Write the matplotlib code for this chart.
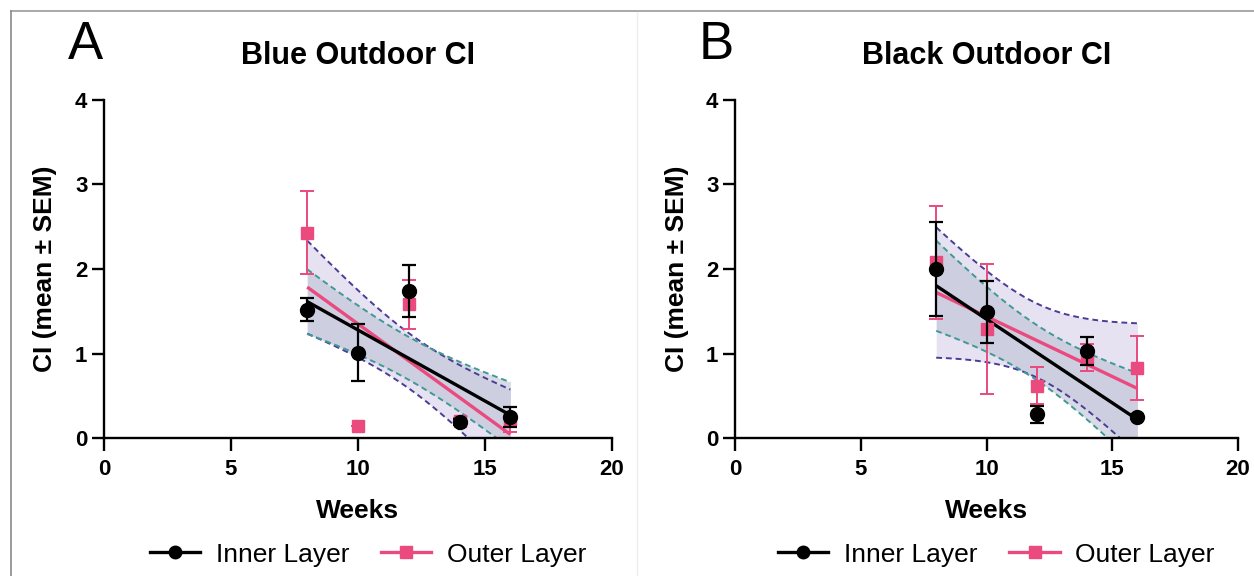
import numpy as np
import matplotlib
matplotlib.use("Agg")
import matplotlib.pyplot as plt
from matplotlib.lines import Line2D

plt.rcParams['font.family'] = ['Liberation Sans', 'DejaVu Sans']

# ---------------- data ----------------
weeks = [8, 10, 12, 14, 16]

titles = ["Blue Outdoor CI", "Black Outdoor CI"]
panel_letters = ["A", "B"]
series_names = ["Inner Layer", "Outer Layer"]

# Panel A (Blue)
blue_inner_mean = [1.52, 1.01, 1.74, 0.19, 0.25]
blue_inner_sem = [0.14, 0.34, 0.31, 0.04, 0.12]
blue_outer_mean = [2.43, 0.14, 1.58, 0.20, 0.22]
blue_outer_sem = [0.49, 0.00, 0.29, 0.04, 0.15]
# 95% CI half-widths of the regression lines, read at each week
blue_inner_ci = [0.38, 0.30, 0.24, 0.30, 0.39]
blue_outer_ci = [0.55, 0.40, 0.32, 0.39, 0.53]

# Panel B (Black)
black_inner_mean = [2.00, 1.49, 0.28, 1.03, 0.25]
black_inner_sem = [0.56, 0.37, 0.10, 0.17, 0.03]
black_outer_mean = [2.08, 1.29, 0.62, 0.95, 0.83]
black_outer_sem = [0.67, 0.77, 0.22, 0.16, 0.38]
black_inner_ci = [0.53, 0.40, 0.31, 0.40, 0.55]
black_outer_ci = [0.77, 0.55, 0.42, 0.55, 0.77]

x_ticks = [0, 5, 10, 15, 20]
y_ticks = [0, 1, 2, 3, 4]

# ---------------- style ----------------
INNER_C = "#000000"
OUTER_C = "#EA4A7E"
INNER_CI_LINE = "#3E9A94"
OUTER_CI_LINE = "#4B3C96"
OUTER_CI_FILL = "#E7E2F1"
INNER_CI_FILL = "#B9BFD3"

fig = plt.figure(figsize=(12.54, 5.76), dpi=100)

axes_px = [(104, 612), (735, 1238)]
W, H = 1254, 576
y0_px, y4_px = 438, 100

panels = [
    (blue_inner_mean, blue_inner_sem, blue_outer_mean, blue_outer_sem, blue_inner_ci, blue_outer_ci),
    (black_inner_mean, black_inner_sem, black_outer_mean, black_outer_sem, black_inner_ci, black_outer_ci),
]

wx = np.array(weeks, dtype=float)
xd = np.linspace(wx.min(), wx.max(), 200)

for i, (im, isem, om, osem, ici, oci) in enumerate(panels):
    l, r = axes_px[i]
    ax = fig.add_axes([l / W, (H - y0_px) / H, (r - l) / W, (y0_px - y4_px) / H])

    # regression fits
    fits = {}
    for key, m in (("in", im), ("out", om)):
        p = np.polyfit(wx, np.array(m), 1)
        fits[key] = np.polyval(p, xd)

    def band(ci):
        q = np.polyfit(wx, np.array(ci) ** 2, 2)
        return np.sqrt(np.clip(np.polyval(q, xd), 0, None))

    hw_out = band(oci)
    hw_in = band(ici)

    ax.fill_between(xd, fits["out"] - hw_out, fits["out"] + hw_out, color=OUTER_CI_FILL, lw=0, zorder=1)
    ax.fill_between(xd, fits["in"] - hw_in, fits["in"] + hw_in, color=INNER_CI_FILL, alpha=0.55, lw=0, zorder=1.5)
    for s in (-1, 1):
        ax.plot(xd, fits["out"] + s * hw_out, color=OUTER_CI_LINE, lw=1.4, ls=(0, (3, 2)), zorder=2)
        ax.plot(xd, fits["in"] + s * hw_in, color=INNER_CI_LINE, lw=1.4, ls=(0, (3, 2)), zorder=2)

    ax.plot(xd, fits["out"], color=OUTER_C, lw=2.4, zorder=3, solid_capstyle='butt')
    ax.plot(xd, fits["in"], color=INNER_C, lw=2.4, zorder=3.2, solid_capstyle='butt')

    ax.errorbar(weeks, om, yerr=osem, fmt='s', color=OUTER_C, ms=8.5, capsize=5,
                elinewidth=1.4, capthick=1.4, zorder=4, clip_on=False)
    ax.errorbar(weeks, im, yerr=isem, fmt='o', color=INNER_C, ms=10, capsize=5,
                elinewidth=1.6, capthick=1.6, zorder=5, clip_on=False)

    ax.set_xlim(0, 20)
    ax.set_ylim(0, 4)
    ax.set_xticks(x_ticks)
    ax.set_yticks(y_ticks)
    for sp in ("top", "right"):
        ax.spines[sp].set_visible(False)
    for sp in ("left", "bottom"):
        ax.spines[sp].set_linewidth(1.7)
    ax.tick_params(axis='both', length=9, width=1.7, direction='out', labelsize=16)
    ax.tick_params(axis='x', pad=6)
    ax.tick_params(axis='y', pad=3)
    for lab in ax.get_xticklabels() + ax.get_yticklabels():
        lab.set_fontweight('bold')
    ax.patch.set_alpha(0)

    ax.set_xlabel("Weeks", fontsize=19, fontweight='bold')
    ax.xaxis.set_label_coords(0.5, -0.18)
    ax.xaxis.label.set_va('top')
    ax.set_ylabel("CI (mean \u00b1 SEM)", fontsize=19, fontweight='bold')
    ax.yaxis.set_label_coords(-0.092, 0.5)

    ax.set_title(titles[i], fontsize=22, fontweight='bold', pad=0, y=1.0 + (100 - 47) / 338 - 0.05)

    handles = [
        Line2D([], [], color=INNER_C, marker='o', lw=2.4, ms=9),
        Line2D([], [], color=OUTER_C, marker='s', lw=2.4, ms=8),
    ]
    ax.legend(handles, series_names, loc='center', bbox_to_anchor=(0.52, -0.345), ncol=2,
              frameon=False, fontsize=19, handlelength=1.9, handletextpad=0.6, columnspacing=1.2)

    fig.text((l - 36) / W, 1 - 45 / H, panel_letters[i], fontsize=38, ha='left', va='center')

# frame lines
fig.add_artist(Line2D([11 / W, 1], [1 - 11 / H, 1 - 11 / H], color='#9a9a9a', lw=1.2))
fig.add_artist(Line2D([11 / W, 11 / W], [0, 1 - 11 / H], color='#8a8a8a', lw=1.2))
fig.add_artist(Line2D([637 / W, 637 / W], [0, 1 - 12 / H], color='#eeeeee', lw=1.0))

fig.savefig("out.png", dpi=100)
